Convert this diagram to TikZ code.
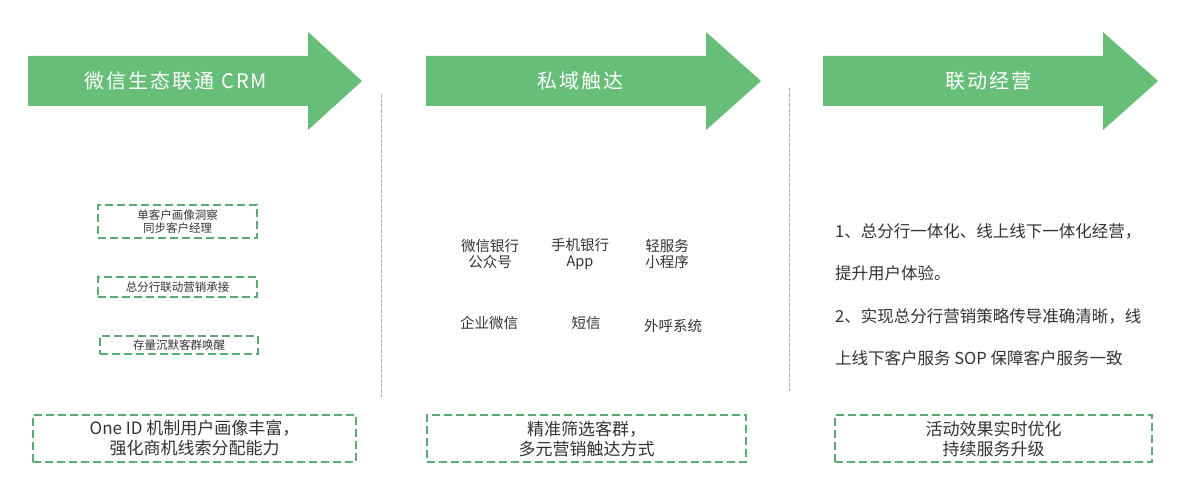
\documentclass[tikz,border=0pt]{standalone}
\usepackage{fontspec}
\setmainfont{Noto Sans CJK SC}
\usepackage{tikz}
\usetikzlibrary{calc}
\definecolor{crmgreen}{RGB}{103,190,120}
\definecolor{boxgreen}{RGB}{90,172,116}
\definecolor{txtgray}{RGB}{51,51,51}

\begin{document}
\begin{tikzpicture}[x=1pt,y=-1pt
        ,banner/.style = {fill=crmgreen}
        ,title/.style = {text=white,font=\fontsize{20}{24}\selectfont\addfontfeature{LetterSpace=10}}
        ,tagbox/.style = {draw=boxgreen,line width=1.6pt,dash pattern=on 8pt off 4pt,inner sep=0pt,text=txtgray,align=center}
        ,small/.style = {font=\fontsize{11.5}{13}\selectfont}
        ,channel/.style = {text=txtgray,align=center,font=\fontsize{14.5}{16}\selectfont}
        ,goal/.style = {text=txtgray,anchor=west,inner sep=0pt,font=\fontsize{16.5}{20}\selectfont}
        ,result/.style = {font=\fontsize{17}{20}\selectfont}
        ,sep/.style = {draw=black!30,line width=1pt,dash pattern=on 4pt off 1pt}
      ]
      \useasboundingbox (0,0) rectangle (1179,495);

      % banners
      \fill[banner] (28,56) -- (308,56) -- (308,32) -- (362,81) -- (308,130) -- (308,106) -- (28,106) -- cycle;
      \fill[banner] (426,56) -- (706,56) -- (706,32) -- (761,81) -- (706,130) -- (706,106) -- (426,106) -- cycle;
      \fill[banner] (823,56) -- (1103,56) -- (1103,32) -- (1158,81) -- (1103,130) -- (1103,106) -- (823,106) -- cycle;
      \node[title] (crm) at (176,81) {微信生态联通 CRM};
      \node[title] (reach) at (580,81) {私域触达};
      \node[title] (ops) at (988,81) {联动经营};

      % separators
      \draw[sep] (381.5,94) -- (381.5,397);
      \draw[sep] (789.5,88) -- (789.5,391);

      % column 1
      \node[tagbox,small,minimum width=159pt,minimum height=33pt] (insight) at (177.5,221.5) {单客户画像洞察\\同步客户经理};
      \node[tagbox,small,minimum width=159pt,minimum height=20pt] (branch) at (177.5,287) {总分行联动营销承接};
      \node[tagbox,small,minimum width=158pt,minimum height=18pt] (wake) at (179,345) {存量沉默客群唤醒};

      % column 2
      \node[channel] (wxbank) at (490,254) {微信银行\\公众号};
      \node[channel] (app) at (580,254) {手机银行\\App};
      \node[channel] (mini) at (667,254) {轻服务\\小程序};
      \node[channel] (wecom) at (489,323) {企业微信};
      \node[channel] (sms) at (586,323) {短信};
      \node[channel] (call) at (673,326) {外呼系统};

      % column 3
      \node[goal] (g1) at (835,231) {1、总分行一体化、线上线下一体化经营，};
      \node[goal] (g2) at (835,273) {提升用户体验。};
      \node[goal] (g3) at (835,316) {2、实现总分行营销策略传导准确清晰，线};
      \node[goal] (g4) at (835,358) {上线下客户服务 SOP 保障客户服务一致};

      % results
      \node[tagbox,result,minimum width=323pt,minimum height=47pt] (res1) at (194.5,438.5) {One ID 机制用户画像丰富，\\强化商机线索分配能力};
      \node[tagbox,result,minimum width=319pt,minimum height=47pt] (res2) at (586.5,438.5) {精准筛选客群，\\多元营销触达方式};
      \node[tagbox,result,minimum width=317pt,minimum height=47pt] (res3) at (993.5,438.5) {活动效果实时优化\\持续服务升级};
    \end{tikzpicture}
\end{document}
